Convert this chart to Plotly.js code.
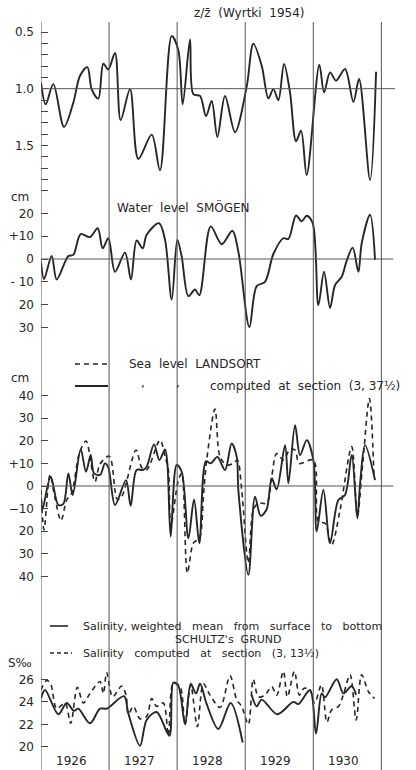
<!DOCTYPE html>
<html>
<head>
<meta charset="utf-8">
<script src="https://cdn.plot.ly/plotly-3.0.1.min.js"></script>
<style>html,body{margin:0;padding:0;background:#fff;}#chart{width:416px;height:770px;}</style>
</head>
<body>
<div id="chart"></div>
<script>
// ---- Panel 1: z / z-bar (Wyrtki 1954) ----
const zTime = [1926.0,1926.069,1926.181,1926.338,1926.475,1926.573,1926.681,1926.744,1926.842,1926.916,1926.989,1927.087,1927.170,1927.308,1927.430,1927.626,1927.748,1927.920,1928.018,1928.081,1928.189,1928.238,1928.336,1928.424,1928.507,1928.591,1928.703,1928.850,1929.022,1929.119,1929.242,1929.340,1929.413,1929.487,1929.570,1929.658,1929.746,1929.820,1929.903,1930.089,1930.158,1930.246,1930.334,1930.466,1930.589,1930.672,1930.834,1930.922];
const zRatio = [0.945,1.138,0.96,1.337,1.123,0.886,0.81,1.004,1.088,0.78,0.83,0.684,1.277,1.004,1.62,1.405,1.72,0.536,0.663,1.138,0.565,1.049,1.064,1.242,1.108,1.426,1.064,1.384,0.98,0.604,0.797,1.085,1.004,1.102,0.782,1.034,1.464,1.37,1.761,0.788,1.034,0.856,0.93,0.826,1.117,0.915,1.806,0.85];

// ---- Panel 2: Water level SMÖGEN (cm) ----
const smogenTime = [1926.0,1926.044,1926.157,1926.230,1926.402,1926.475,1926.583,1926.720,1926.833,1926.906,1926.989,1927.087,1927.234,1927.322,1927.405,1927.494,1927.552,1927.734,1927.822,1927.920,1928.003,1928.067,1928.165,1928.262,1928.326,1928.493,1928.654,1928.811,1928.899,1929.061,1929.168,1929.291,1929.413,1929.560,1929.634,1929.746,1929.829,1929.903,1929.991,1930.074,1930.158,1930.246,1930.319,1930.417,1930.491,1930.579,1930.662,1930.711,1930.834,1930.907];
const smogenLevel = [-1.2,-8.8,1.3,-9.0,1.3,1.8,10.9,9.6,13.5,4.7,9.1,-5.6,2.8,-9.0,8.1,4.7,10.6,15.7,8.4,-17.8,8.4,1.0,-16.3,-13.4,-15.9,14.3,6.5,12.4,3.2,-29.9,-11.9,-10.0,2.2,9.1,8.8,19.1,16.5,19.0,15.7,-20.3,-5.6,-21.5,-11.5,-7.8,-0.7,5.0,-5.6,6.9,19.4,-0.4];

// ---- Panel 3: Sea level LANDSORT (dashed) and computed at section (3, 37½) (solid) ----
const landsortTime = [1926.0,1926.044,1926.132,1926.206,1926.294,1926.377,1926.450,1926.563,1926.661,1926.793,1926.867,1927.004,1927.121,1927.185,1927.396,1927.479,1927.552,1927.748,1927.822,1927.871,1927.905,1928.018,1928.067,1928.150,1928.238,1928.326,1928.385,1928.434,1928.556,1928.630,1928.728,1928.826,1928.885,1928.948,1929.046,1929.119,1929.193,1929.315,1929.389,1929.462,1929.560,1929.658,1929.732,1929.795,1930.001,1930.074,1930.172,1930.270,1930.393,1930.564,1930.647,1930.726,1930.824,1930.892];
const landsortLevel = [-1.8,-19.4,4.9,-5.4,-15.3,-6.2,-3.2,14.4,19.9,1.9,9.7,13.2,-5.9,-4.7,15.9,8.2,7.1,20.3,13.0,7.1,-17.9,2.6,5.6,-38.5,-25.3,-23.1,-4.7,11.5,34.0,12.9,9.3,10.0,11.5,-1.8,-34.1,-10.6,-7.6,-7.6,4.1,14.4,11.5,16.2,15.9,10.0,11.5,-15.7,-16.5,-26.0,-10.6,17.4,-13.5,10.0,38.7,4.1];
const computedTime = [1926.0,1926.02,1926.142,1926.255,1926.328,1926.402,1926.465,1926.583,1926.661,1926.730,1926.779,1926.867,1926.940,1926.989,1927.087,1927.249,1927.317,1927.405,1927.503,1927.552,1927.660,1927.739,1927.822,1927.856,1927.905,1927.993,1928.067,1928.165,1928.248,1928.326,1928.424,1928.493,1928.591,1928.703,1928.801,1928.875,1928.899,1929.046,1929.144,1929.227,1929.315,1929.389,1929.462,1929.585,1929.634,1929.732,1929.805,1929.903,1930.001,1930.050,1930.148,1930.246,1930.368,1930.466,1930.564,1930.647,1930.687,1930.760,1930.907];
const computedLevel = [-5.0,-10.5,4.1,-8.4,-7.9,5.6,-4.0,16.2,6.3,13.7,5.6,4.9,10.0,8.2,-8.4,2.6,-8.8,7.1,7.1,8.5,18.4,11.5,16.2,10.0,-22.4,9.3,6.3,-23.1,-5.9,-25.3,11.0,10.0,12.9,7.1,18.8,12.9,-1.8,-39.3,-4.7,-13.2,-10.3,3.4,-1.5,18.1,1.2,26.9,13.7,20.3,11.5,-20.1,-1.8,-25.3,-6.2,-4.0,13.7,-14.3,1.0,18.1,2.6];

// ---- Panel 4: Salinity S‰, SCHULTZ's GRUND ----
const salMeanTime = [1926.0,1926.059,1926.255,1926.377,1926.485,1926.548,1926.720,1926.867,1926.965,1927.219,1927.283,1927.454,1927.552,1927.699,1927.885,1927.944,1928.018,1928.116,1928.199,1928.277,1928.336,1928.434,1928.605,1928.786,1928.962,1929.02,1929.095,1929.168,1929.242,1929.472,1929.707,1929.780,1929.952,1930.040,1930.123,1930.172,1930.344,1930.442,1930.564,1930.628];
const salMean = [24.3,25.05,22.9,23.9,23.2,23.4,22.1,23.4,23.4,24.5,22.97,20.1,22.4,23.1,21.0,25.7,25.4,22.0,25.6,24.75,25.6,23.8,21.6,23.9,20.4,null,24.6,23.6,24.2,22.9,24.0,23.8,25.05,21.2,24.75,24.4,26.0,24.75,25.4,24.6];
const salCompTime = [1926.0,1926.083,1926.142,1926.230,1926.353,1926.436,1926.534,1926.622,1926.720,1926.867,1926.916,1926.965,1927.053,1927.185,1927.249,1927.283,1927.356,1927.454,1927.552,1927.626,1927.699,1927.797,1927.871,1927.944,1928.042,1928.116,1928.199,1928.297,1928.385,1928.483,1928.630,1928.777,1928.875,1928.948,1929.046,1929.119,1929.193,1929.291,1929.389,1929.462,1929.560,1929.619,1929.722,1929.795,1929.864,1929.952,1930.02,1930.12,1930.20,1930.27,1930.37,1930.44,1930.54,1930.63,1930.71,1930.81,1930.90];
const salComp = [25.05,25.9,25.6,23.4,23.9,22.1,25.3,23.9,24.75,25.8,24.75,26.6,24.45,25.4,24.6,22.9,23.6,22.5,22.7,24.3,23.6,23.9,21.0,25.7,25.35,22.0,25.5,21.8,25.6,24.6,23.5,26.3,24.2,23.6,22.0,26.0,24.45,24.6,25.35,24.6,26.7,24.45,26.7,24.6,25.2,25.05,23.9,25.5,22.2,23.3,23.6,24.6,26.4,22.4,26.4,24.9,24.3];

// ---- Axis ticks & labels ----
const zTicks = [0.5,0.6,0.7,0.8,0.9,1.0,1.1,1.2,1.3,1.4,1.5,1.6,1.7,1.8,1.9];
const zTickText = ["0.5","","","","","1.0","","","","","1.5","","","",""];
const smogenTicks = [30,20,10,0,-10,-20,-30];
const smogenTickText = ["","20","+10","0","- 10","20","30"];
const landsortTicks = [40,30,20,10,0,-10,-20,-30,-40];
const landsortTickText = ["40","30","20","+10","0","\u221210","20","30","40"];
const salTicks = [26,24,22,20];
const salTickText = ["26","24","22","20"];
const years = [1926,1927,1928,1929,1930];
const yearBounds = [1926,1927,1928,1929,1930,1931];

const H = 770;
const ink = '#262626';
const font = 'DejaVu Sans, sans-serif';
const py = p => 1 - p / H;  // pixel row -> paper fraction

const lineSolid = {color: ink, width: 1.9, shape: 'spline', smoothing: 0.9};
const lineDash = {color: ink, width: 1.6, shape: 'spline', smoothing: 0.9, dash: '5px,4px'};

const traces = [
  {x: zTime, y: zRatio, xaxis: 'x', yaxis: 'y', mode: 'lines', line: lineSolid},
  {x: smogenTime, y: smogenLevel, xaxis: 'x', yaxis: 'y2', mode: 'lines', line: lineSolid},
  {x: landsortTime, y: landsortLevel, xaxis: 'x', yaxis: 'y3', mode: 'lines', line: lineDash},
  {x: computedTime, y: computedLevel, xaxis: 'x', yaxis: 'y3', mode: 'lines', line: lineSolid},
  {x: salCompTime, y: salComp, xaxis: 'x', yaxis: 'y4', mode: 'lines', line: lineDash},
  {x: salMeanTime, y: salMean, xaxis: 'x', yaxis: 'y4', mode: 'lines', line: lineSolid, connectgaps: false}
];

function yax(domainTopPx, domainBotPx, range, tv, tt) {
  return {
    domain: [py(domainBotPx), py(domainTopPx)],
    range: range,
    anchor: 'x',
    showgrid: false, zeroline: false, showline: false,
    ticks: 'inside', ticklen: 7, tickwidth: 1, tickcolor: '#444',
    tickvals: tv, ticktext: tt,
    tickfont: {family: font, size: 12, color: ink},
    ticklabelstandoff: 6
  };
}

const shapes = [];
// year boundary verticals and left axis
yearBounds.forEach(yb => {
  shapes.push({type: 'line', xref: 'x', yref: 'paper', x0: yb, x1: yb, y0: 0, y1: py(22),
    line: {color: '#555', width: 1}});
});
// reference horizontal lines
shapes.push({type: 'line', xref: 'paper', yref: 'y', x0: 0, x1: 1, y0: 1.0, y1: 1.0, line: {color: '#555', width: 1}});
shapes.push({type: 'line', xref: 'paper', yref: 'y2', x0: 0, x1: 0.995, y0: 0, y1: 0, line: {color: '#555', width: 1}});
shapes.push({type: 'line', xref: 'paper', yref: 'y3', x0: 0, x1: 0.995, y0: 0, y1: 0, line: {color: '#555', width: 1}});
// legend samples (pixel positions converted to paper)
const L = 41, W = 354;
const px = p => (p - L) / W;
shapes.push({type: 'line', xref: 'paper', yref: 'paper', x0: px(75), x1: px(108), y0: py(364), y1: py(364), line: {color: ink, width: 1.6, dash: '5px,4px'}});
shapes.push({type: 'line', xref: 'paper', yref: 'paper', x0: px(75), x1: px(108), y0: py(386), y1: py(386), line: {color: ink, width: 1.9}});
shapes.push({type: 'line', xref: 'paper', yref: 'paper', x0: px(50), x1: px(68), y0: py(626), y1: py(626), line: {color: ink, width: 1.6}});
shapes.push({type: 'line', xref: 'paper', yref: 'paper', x0: px(50), x1: px(72), y0: py(653), y1: py(653), line: {color: ink, width: 1.4, dash: '4px,3px'}});

function txt(text, xPix, yPix, anchor, size) {
  return {text: text, xref: 'paper', yref: 'paper', x: px(xPix), y: py(yPix),
    xanchor: anchor || 'left', yanchor: 'middle', showarrow: false,
    font: {family: font, size: size || 12, color: ink}};
}

const annotations = [
  txt('z/z\u0304  (Wyrtki  1954)', 249, 13, 'center', 12),
  txt('cm', 20, 197, 'center', 12),
  txt('Water  level  SM\u00d6GEN', 115, 207, 'left', 12),
  txt('Sea  level  LANDSORT', 127, 364, 'left', 12),
  txt(',', 143, 383, 'center', 12),
  txt(',', 178, 383, 'center', 12),
  txt('computed  at  section  (3, 37\u00bd)', 208, 386, 'left', 12),
  txt('cm', 20, 378, 'center', 12),
  txt('Salinity, weighted   mean   from   surface   to   bottom', 81, 626, 'left', 11),
  txt("SCHULTZ's  GRUND", 228, 639.5, 'center', 11),
  txt('Salinity   computed   at   section   (3, 13\u00bd)', 81, 653, 'left', 11),
  txt('S\u2030', 20, 663, 'center', 12)
];
years.forEach(yr => {
  annotations.push({text: String(yr), xref: 'x', yref: 'paper', x: yr + 0.45, y: py(761),
    xanchor: 'center', yanchor: 'middle', showarrow: false,
    font: {family: font, size: 12, color: ink}});
});

const layout = {
  width: 416, height: 770,
  margin: {l: 41, r: 21, t: 0, b: 0},
  paper_bgcolor: '#fff', plot_bgcolor: 'rgba(0,0,0,0)',
  showlegend: false,
  xaxis: {range: [1926, 1931.2], domain: [0, 1], visible: false, anchor: 'y4'},
  yaxis: yax(22, 200, [1.982, 0.4118], zTicks, zTickText),
  yaxis2: yax(185, 340, [-35.53, 32.46], smogenTicks, smogenTickText),
  yaxis3: yax(388, 592, [-46.9, 43.36], landsortTicks, landsortTickText),
  yaxis4: yax(664, 752, [19.555, 27.356], salTicks, salTickText),
  shapes: shapes,
  annotations: annotations
};

Plotly.newPlot('chart', traces, layout, {staticPlot: true, displayModeBar: false});
</script>
</body>
</html>
